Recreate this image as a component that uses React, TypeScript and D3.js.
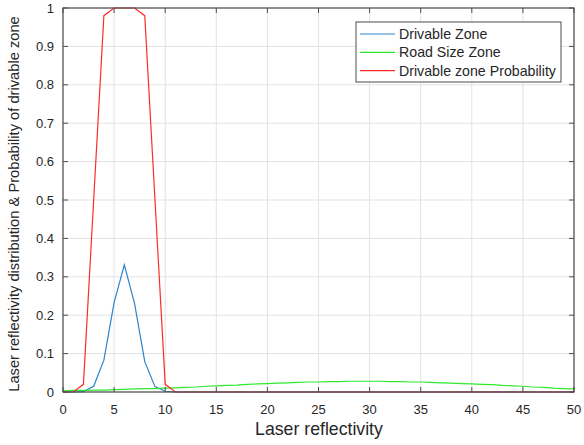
import React from "react";
import * as d3 from "d3";

const xs: number[] = d3.range(0, 51);
const drivable: number[] = [0, 0, 0.001, 0.015, 0.083, 0.233, 0.331, 0.231, 0.079, 0.014, 0.002, 0,
  0, 0, 0, 0, 0, 0, 0, 0, 0, 0, 0, 0, 0, 0, 0, 0, 0, 0, 0, 0, 0, 0, 0, 0, 0, 0, 0, 0, 0, 0, 0, 0, 0, 0, 0, 0, 0, 0, 0];
const roadSize: number[] = [0.003, 0.004, 0.004, 0.005, 0.005, 0.006, 0.007, 0.008, 0.009, 0.009, 0.010,
  0.011, 0.012, 0.013, 0.015, 0.016, 0.017, 0.018, 0.020, 0.021, 0.022,
  0.023, 0.024, 0.025, 0.026, 0.026, 0.027, 0.027, 0.028, 0.028, 0.028,
  0.028, 0.027, 0.027, 0.026, 0.026, 0.025, 0.024, 0.023, 0.022, 0.021,
  0.020, 0.019, 0.017, 0.016, 0.015, 0.013, 0.012, 0.010, 0.009, 0.008];
const probability: number[] = [0, 0, 0.02, 0.5, 0.98, 1, 1, 1, 0.98, 0.5, 0.02, 0,
  0, 0, 0, 0, 0, 0, 0, 0, 0, 0, 0, 0, 0, 0, 0, 0, 0, 0, 0, 0, 0, 0, 0, 0, 0, 0, 0, 0, 0, 0, 0, 0, 0, 0, 0, 0, 0, 0, 0];
const xTicks: number[] = [0, 5, 10, 15, 20, 25, 30, 35, 40, 45, 50];
const yTicks: number[] = [0, 0.1, 0.2, 0.3, 0.4, 0.5, 0.6, 0.7, 0.8, 0.9, 1];
const seriesNames: string[] = ["Drivable Zone", "Road Size Zone", "Drivable zone Probability"];
const seriesColors: string[] = ["#2a84cc", "#2ee82e", "#ff2a2a"];

export default function App() {
  const W = 584, H = 445;
  const L = 63, R = 574, T = 8, B = 392;
  const x = d3.scaleLinear().domain([0, 50]).range([L, R]);
  const y = d3.scaleLinear().domain([0, 1]).range([B, T]);
  const line = d3.line<number>().x((_, i) => x(xs[i])).y((d) => y(d));
  const series = [drivable, roadSize, probability];
  const font = "Liberation Sans, Arial, sans-serif";
  const axisColor = "#4d4d4d";
  return (
    <svg width={W} height={H} style={{ position: "absolute", left: 0, top: 0, background: "#fff" }}>
      <rect x={0} y={0} width={W} height={H} fill="#fff" />
      {xTicks.map((t) => (
        <line key={"gx" + t} x1={x(t)} x2={x(t)} y1={T} y2={B} stroke="#e3e3e3" strokeWidth={1} />
      ))}
      {yTicks.map((t) => (
        <line key={"gy" + t} x1={L} x2={R} y1={y(t)} y2={y(t)} stroke="#e3e3e3" strokeWidth={1} />
      ))}
      {series.map((s, i) => (
        <path key={"s" + i} d={line(s) || ""} fill="none" stroke={seriesColors[i]} strokeWidth={1.2} />
      ))}
      <rect x={L} y={T} width={R - L} height={B - T} fill="none" stroke={axisColor} strokeWidth={1.2} />
      {xTicks.map((t) => (
        <g key={"tx" + t}>
          <line x1={x(t)} x2={x(t)} y1={B} y2={B - 5} stroke={axisColor} />
          <line x1={x(t)} x2={x(t)} y1={T} y2={T + 5} stroke={axisColor} />
          <text x={x(t)} y={B + 22} textAnchor="middle" fontFamily={font} fontSize={13} fill="#262626">{t}</text>
        </g>
      ))}
      {yTicks.map((t) => (
        <g key={"ty" + t}>
          <line x1={L} x2={L + 5} y1={y(t)} y2={y(t)} stroke={axisColor} />
          <line x1={R} x2={R - 5} y1={y(t)} y2={y(t)} stroke={axisColor} />
          <text x={L - 9} y={y(t) + 4.5} textAnchor="end" fontFamily={font} fontSize={13} fill="#262626">{t}</text>
        </g>
      ))}
      <text x={319} y={435} textAnchor="middle" fontFamily={font} fontSize={17.7} fill="#262626">Laser reflectivity</text>
      <text transform={`translate(19, 204) rotate(-90)`} textAnchor="middle" fontFamily={font} fontSize={14.7} fill="#262626">
        Laser reflectivity distribution &amp; Probability of drivable zone
      </text>
      <g>
        <rect x={356} y={22} width={205} height={60} fill="#fff" stroke={axisColor} strokeWidth={1} />
        {seriesNames.map((n, i) => (
          <g key={"lg" + i}>
            <line x1={360} x2={395} y1={34 + i * 18.3} y2={34 + i * 18.3} stroke={seriesColors[i]} strokeWidth={1.2} />
            <text x={399} y={34 + i * 18.3 + 5} fontFamily={font} fontSize={14.2} fill="#262626">{n}</text>
          </g>
        ))}
      </g>
    </svg>
  );
}
